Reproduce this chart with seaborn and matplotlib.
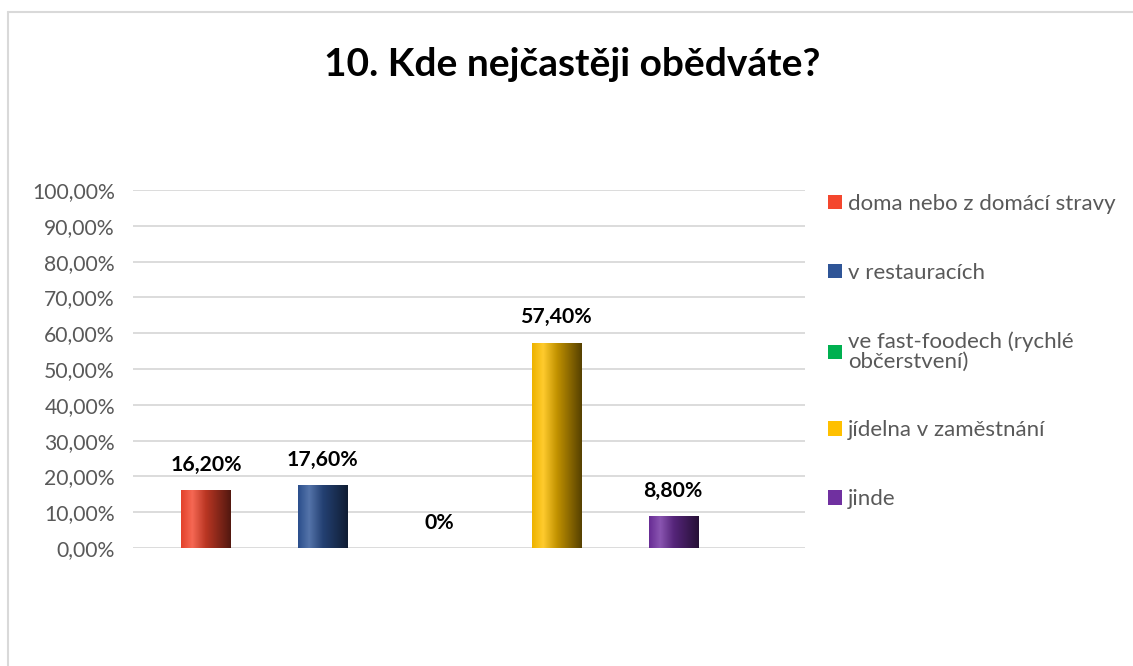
import numpy as np
import matplotlib
matplotlib.use("Agg")
import matplotlib.pyplot as plt
import matplotlib.colors as mcolors
from matplotlib.patches import Patch
from matplotlib.lines import Line2D
import seaborn as sns

# ---- data ----
categories = ["doma nebo z domácí stravy", "v restauracích",
              "ve fast-foodech (rychlé\nobčerstvení)", "jídelna v zaměstnání", "jinde"]
values = [16.2, 17.6, 0.0, 57.4, 8.8]
value_labels = ["16,20%", "17,60%", "0%", "57,40%", "8,80%"]
colors = ["#f4472e", "#2f5597", "#00b050", "#ffc000", "#7030a0"]
yticks = [0, 10, 20, 30, 40, 50, 60, 70, 80, 90, 100]
ytick_labels = ["0,00%", "10,00%", "20,00%", "30,00%", "40,00%", "50,00%",
                "60,00%", "70,00%", "80,00%", "90,00%", "100,00%"]
title = "10. Kde nejčastěji obědváte?"

sns.set_theme(style="white")
plt.rcParams["font.family"] = ["Lato", "DejaVu Sans"]

W, H = 1133, 666
fig = plt.figure(figsize=(W / 100, H / 100), dpi=100)
fig.patch.set_facecolor("white")

# outer chart border: only top and left edges are visible in the picture
fig.add_artist(Line2D([8 / W, 1.0], [1 - 12 / H, 1 - 12 / H], transform=fig.transFigure,
                      color="#d9d9d9", linewidth=1.5))
fig.add_artist(Line2D([8 / W, 8 / W], [0.0, 1 - 12 / H], transform=fig.transFigure,
                      color="#d9d9d9", linewidth=1.5))

ax = fig.add_axes([133 / W, 118 / H, (805 - 133) / W, (548 - 190) / H])

sns.barplot(x=categories, y=values, hue=categories, palette=colors,
            ax=ax, legend=False, width=0.42, saturation=1, zorder=3)

# gradient fill clipped to each bar
def grad_img(c):
    base = np.array(mcolors.to_rgb(c))
    white = np.ones(3)
    stops = [(0.0, base * 0.93),
             (0.22, base * 0.82 + white * 0.18),
             (0.5, base * 0.76),
             (1.0, base * 0.34)]
    t = np.linspace(0, 1, 64)
    img = np.zeros((1, 64, 3))
    for k in range(3):
        img[0, :, k] = np.interp(t, [s[0] for s in stops], [s[1][k] for s in stops])
    return np.clip(img, 0, 1)

for patch, c in zip(ax.patches, colors):
    x0, w, h = patch.get_x(), patch.get_width(), patch.get_height()
    patch.set_edgecolor("none")
    if h <= 0:
        continue
    im = ax.imshow(grad_img(c), extent=[x0, x0 + w, 0, h], aspect="auto",
                   zorder=4, interpolation="bilinear")
    im.set_clip_path(patch)

ax.set_xlim(-0.625, 5.13)
ax.set_ylim(0, 100)
ax.set_yticks(yticks)
ax.set_yticklabels(ytick_labels, color="#595959", fontsize=15.2)
ax.set_xticks([])
ax.set_xlabel("")
ax.set_ylabel("")
ax.tick_params(axis="y", length=0, pad=13)
for s in ax.spines.values():
    s.set_visible(False)
ax.grid(axis="y", color="#d9d9d9", linewidth=1.3, zorder=0)
ax.set_axisbelow(True)

# data labels
for i, (v, lab) in enumerate(zip(values, value_labels)):
    ax.annotate(lab, (i, v), xytext=(0, 11), textcoords="offset points",
                ha="center", va="bottom", fontsize=15.3, fontweight="bold",
                color="black", zorder=6)

# title
fig.text(572 / W, 1 - 65 / H, title, ha="center", va="center",
         fontsize=28, fontweight="bold", color="black")

# legend
handles = [Patch(facecolor=c, edgecolor="none") for c in colors]
leg = fig.legend(handles, categories, loc="upper left",
                 bbox_to_anchor=(828 / W, 1 - 194 / H),
                 frameon=False, fontsize=16, labelcolor="#595959",
                 handlelength=0.62, handleheight=0.62, handletextpad=0.28,
                 labelspacing=2.2, borderpad=0, borderaxespad=0)
for t in leg.get_texts():
    t.set_linespacing(0.95)

fig.savefig("out.png", dpi=100, facecolor="white")
